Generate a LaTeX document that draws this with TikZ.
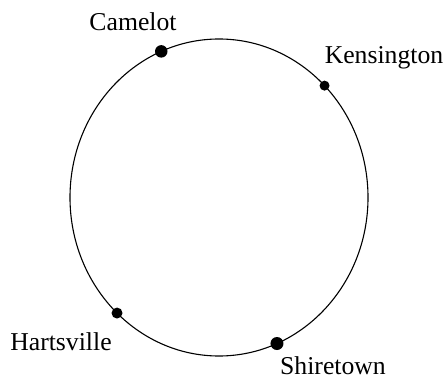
\documentclass[tikz,border=0pt]{standalone}
\usepackage{fontspec}
\setmainfont{Liberation Serif}
\usetikzlibrary{calc}

\begin{document}
\begin{tikzpicture}[
  x=1pt, y=1pt,
  every node/.style={inner sep=0pt},
  town/.style={circle, fill=black, minimum size=#1},
  townname/.style={anchor=base, font=\fontsize{25.7}{30}\selectfont},
]
  \useasboundingbox (0,0) rectangle (447,381);
  \coordinate (ctr) at (219,183.5);
  \draw[line width=1.1pt] (ctr) ellipse [x radius=149pt, y radius=158.5pt];

  % towns on the ring
  \node[town=12.5pt] (camelot)    at ($(ctr)+(112.8:149pt and 158.5pt)$) {};
  \node[town=10pt]   (kensington) at ($(ctr)+(44.9:149pt and 158.5pt)$) {};
  \node[town=11pt]   (hartsville) at ($(ctr)+(226.8:149pt and 158.5pt)$) {};
  \node[town=13pt]   (shiretown)  at ($(ctr)+(292.9:149pt and 158.5pt)$) {};

  \node[townname] (camelot-name)    at (133,350.5) {Camelot};
  \node[townname] (kensington-name) at (384,317) {Kensington};
  \node[townname] (hartsville-name) at (61,31) {Hartsville};
  \node[townname] (shiretown-name)  at (333,6.5) {Shiretown};
\end{tikzpicture}
\end{document}
